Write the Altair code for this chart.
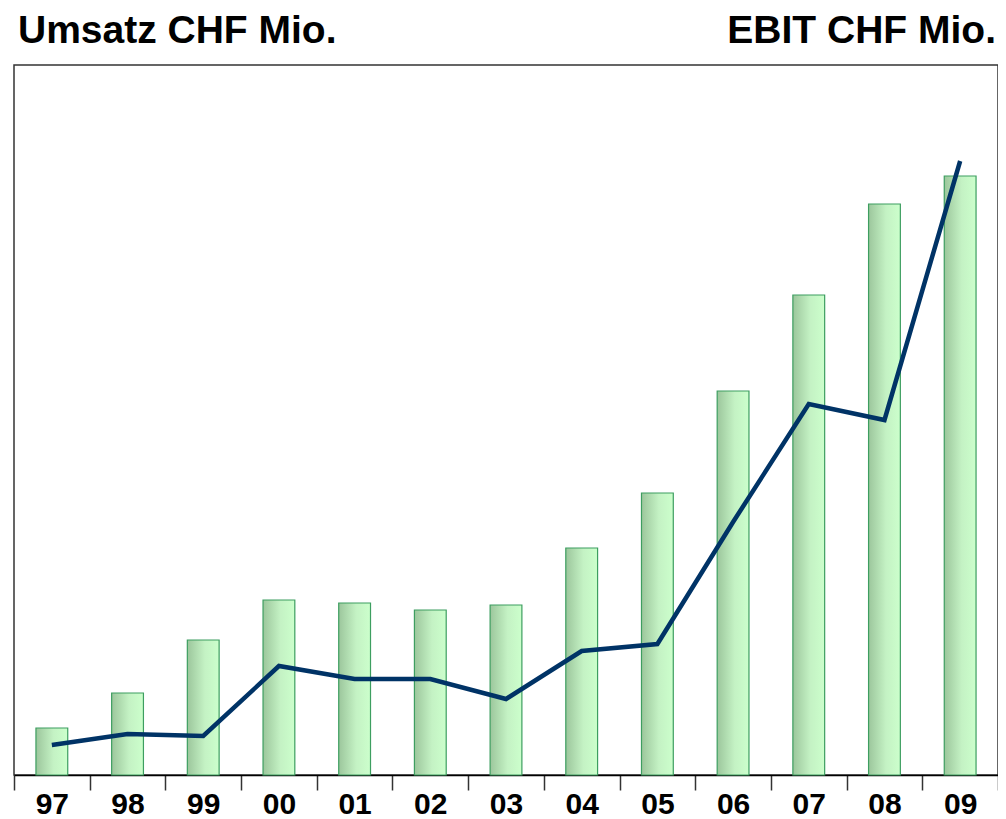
import altair as alt
import pandas as pd

years = ["97", "98", "99", "00", "01", "02", "03", "04", "05", "06", "07", "08", "09"]
umsatz = [47, 82, 135, 175, 172, 165, 170, 227, 282, 384, 480, 571, 599]
ebit = [30, 41, 39, 109, 96, 96, 76, 124, 131, 253, 371, 355, 614]

df = pd.DataFrame({"year": years, "umsatz": umsatz, "ebit": ebit})

W, H = 984, 710

xenc = alt.X(
    "year:N",
    sort=years,
    title=None,
    scale=alt.Scale(paddingInner=0, paddingOuter=0),
    axis=alt.Axis(
        tickBand="extent",
        labelAngle=0,
        labelFont="Liberation Sans",
        labelFontSize=30,
        labelFontWeight="bold",
        labelColor="#000000",
        labelPadding=-1,
        tickSize=15,
        tickColor="#333333",
        tickWidth=1.5,
        domainColor="#000000",
        domainWidth=1.5,
    ),
)
yscale = alt.Scale(domain=[0, H], nice=False, zero=True)

grad = alt.LinearGradient(
    gradient="linear",
    stops=[
        alt.GradientStop(color="#9cc69c", offset=0),
        alt.GradientStop(color="#c4f2c4", offset=0.55),
        alt.GradientStop(color="#ccffcc", offset=1),
    ],
    x1=0, x2=1, y1=0, y2=0,
)

bars = alt.Chart(df).mark_bar(
    color=grad, stroke="#3d9e60", strokeWidth=1.2,
    width=alt.RelativeBandSize(0.42),
).encode(
    x=xenc,
    y=alt.Y("umsatz:Q", scale=yscale, axis=None),
)

line = alt.Chart(df).mark_line(color="#003366", strokeWidth=4.5).encode(
    x=alt.X("year:N", sort=years),
    y=alt.Y("ebit:Q", scale=yscale, axis=None),
)

title_df = pd.DataFrame({"t": ["Umsatz CHF Mio."]})
title_l = alt.Chart(title_df).mark_text(
    font="Liberation Sans", fontSize=39, fontWeight="bold", align="left",
    baseline="alphabetic", color="#000000",
).encode(text="t:N", x=alt.value(4), y=alt.value(-22))

title_df2 = pd.DataFrame({"t": ["EBIT CHF Mio."]})
title_r = alt.Chart(title_df2).mark_text(
    font="Liberation Sans", fontSize=39, fontWeight="bold", align="right",
    baseline="alphabetic", color="#000000",
).encode(text="t:N", x=alt.value(W - 2), y=alt.value(-22))

chart = alt.layer(bars, line, title_l, title_r).properties(
    width=W, height=H,
    autosize=alt.AutoSizeParams(type="none"),
    padding={"left": 6, "top": 57, "right": 0, "bottom": 44},
).configure_view(stroke="#333333", strokeWidth=1.5)

chart.save("out.html", embed_options={"renderer": "svg", "actions": False})
